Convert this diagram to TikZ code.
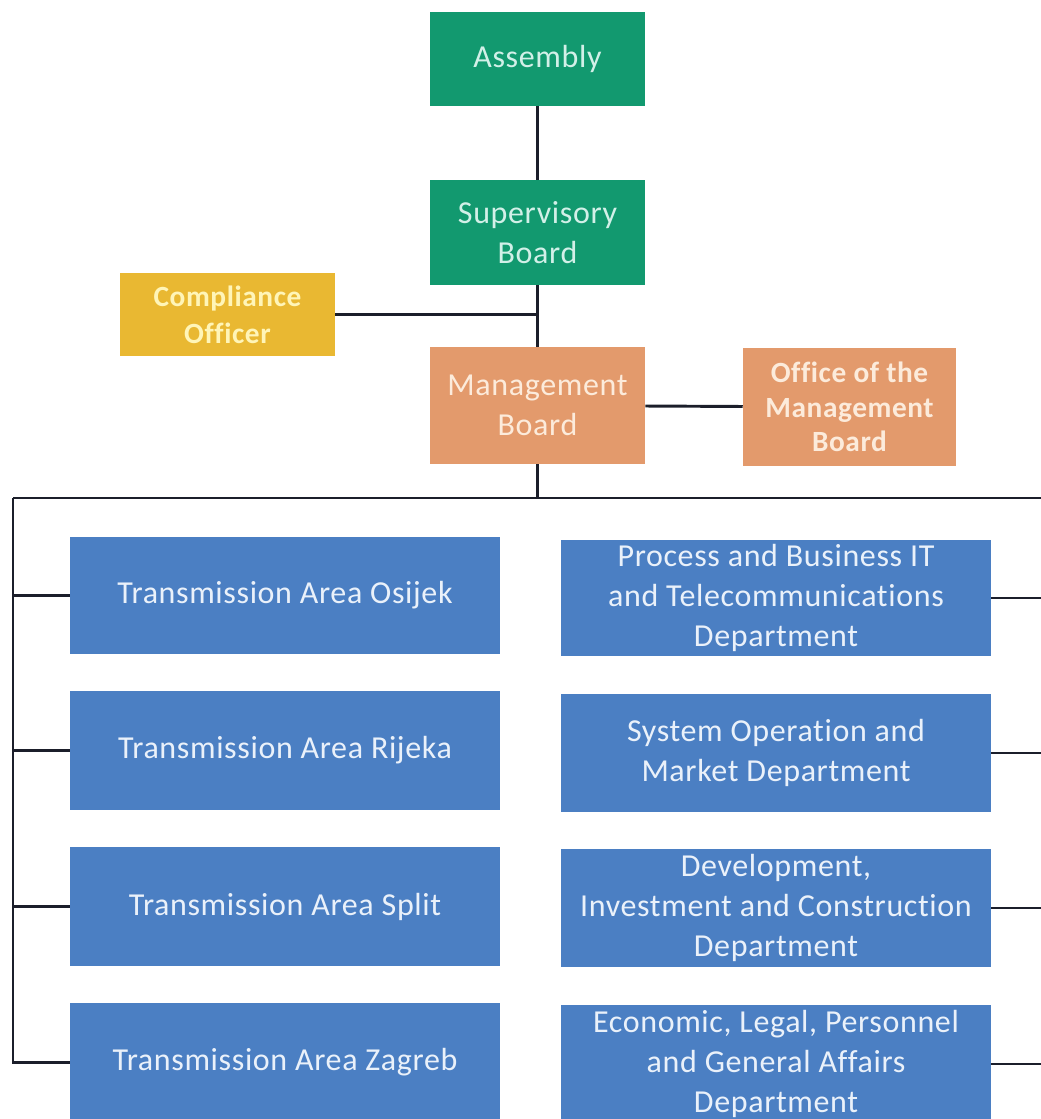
\documentclass[tikz,border=0pt]{standalone}
\usepackage{fontspec}
\setmainfont[Ligatures=NoCommon,LetterSpace=2]{Carlito}
\definecolor{cgreen}{HTML}{12996F}
\definecolor{cgold}{HTML}{E9B832}
\definecolor{corange}{HTML}{E39A6C}
\definecolor{cblue}{HTML}{4B7FC3}
\definecolor{cline}{HTML}{1B1E2A}
\definecolor{tgreen}{HTML}{D2F0E8}
\definecolor{tgold}{HTML}{FFF5B8}
\definecolor{torange}{HTML}{FCEBDB}
\definecolor{tblue}{HTML}{EAF1FA}
\begin{document}
\begin{tikzpicture}[x=0.75pt,y=-0.75pt,
  box/.style={draw=none,inner sep=0pt,align=center},
  gbox/.style={box,fill=cgreen,text=tgreen,minimum width=161.25pt,font=\fontsize{24}{30}\selectfont},
  obox/.style={box,fill=corange,text=torange,font=\fontsize{24}{30}\selectfont},
  bbox/.style={box,fill=corange,text=torange,font=\bfseries\fontsize{22}{26}\selectfont},
  ybox/.style={box,fill=cgold,text=tgold,font=\bfseries\fontsize{22}{27.5}\selectfont},
  dept/.style={box,fill=cblue,text=tblue,minimum width=322.5pt,font=\fontsize{24}{30}\selectfont},
  conn/.style={draw=cline,line width=2.2pt}]
\useasboundingbox (0,0) rectangle (1040,1119);
% top
\node[gbox,minimum height=70.5pt] (asm) at (537.5,59) {Assembly};
\node[gbox,minimum height=78.75pt] (sup) at (537.5,232.5) {Supervisory\\Board};
\node[ybox,minimum width=161.25pt,minimum height=62.25pt] (comp) at (227.5,314.5) {Compliance\\Officer};
\node[obox,minimum width=161.25pt,minimum height=87.75pt] (mgmt) at (537.5,405.5) {Management\\Board};
\node[bbox,minimum width=159.75pt,minimum height=88.5pt] (off) at (849.5,407) {Office of the\\Management\\Board};
% left column
\node[dept,minimum height=87.75pt] (osi) at (285,595.5) {Transmission Area Osijek};
\node[dept,minimum height=89.25pt] (rij) at (285,750.5) {Transmission Area Rijeka};
\node[dept,minimum height=89.25pt] (spl) at (285,906.5) {Transmission Area Split};
\node[dept,minimum height=89.25pt] (zag) at (285,1062.5) {Transmission Area Zagreb};
% right column
\node[dept,minimum height=87pt] (proc) at (776,598) {Process and Business IT\\and Telecommunications\\Department};
\node[dept,minimum height=88.5pt] (sys) at (776,753) {System Operation and\\Market Department};
\node[dept,minimum height=88.5pt] (dev) at (776,908) {Development,\\Investment and Construction\\Department};
\node[dept,minimum height=88.5pt] (eco) at (776,1064) {Economic, Legal, Personnel\\and General Affairs\\Department};
% connectors
\coordinate (busL) at (13,498);
\coordinate (busR) at (1042,498);
\draw[conn] (asm) -- (sup);
\draw[conn] (sup) -- (mgmt);
\draw[conn] (comp.east) -- (comp.east -| sup.south);
\draw[conn] (mgmt) -- (off);
\draw[conn] (mgmt.south) -- (mgmt.south |- busL);
\draw[conn] (busL) -- (busR);
\draw[conn] (busL) |- (zag.west);
\draw[conn] (osi.west -| busL) -- (osi.west);
\draw[conn] (rij.west -| busL) -- (rij.west);
\draw[conn] (spl.west -| busL) -- (spl.west);
\draw[conn] (proc.east) -- (proc.east -| busR);
\draw[conn] (sys.east) -- (sys.east -| busR);
\draw[conn] (dev.east) -- (dev.east -| busR);
\draw[conn] (eco.east) -- (eco.east -| busR);
\end{tikzpicture}
\end{document}
